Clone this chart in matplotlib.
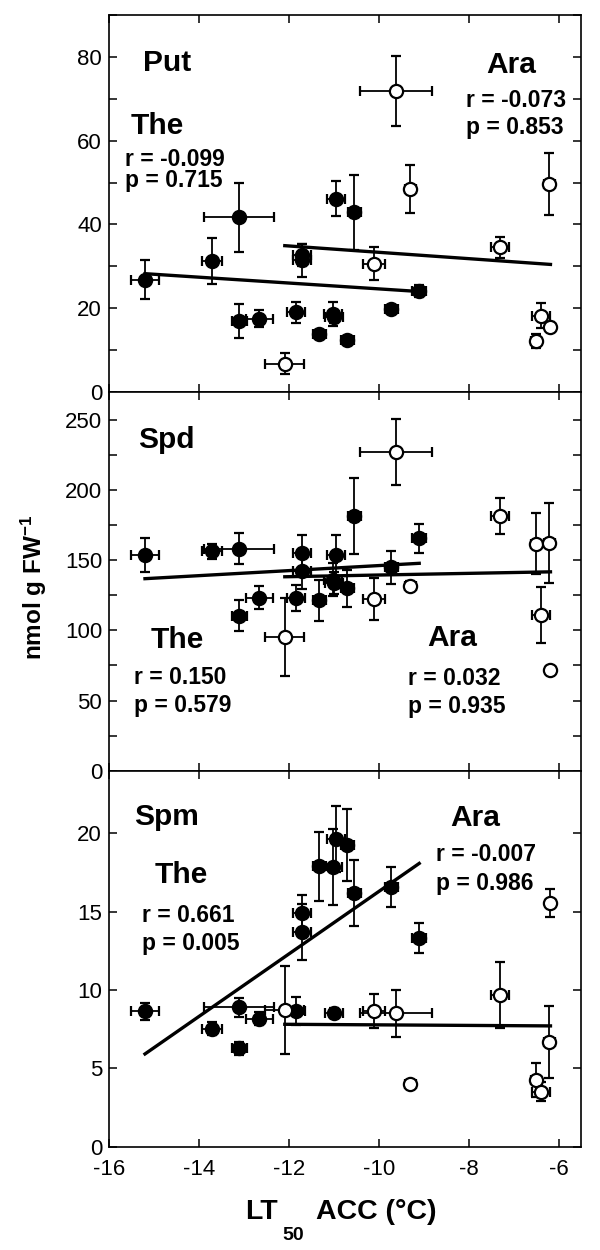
import numpy as np
import matplotlib
matplotlib.use("Agg")
import matplotlib.pyplot as plt
from matplotlib.ticker import MultipleLocator

plt.rcParams['font.family'] = ['Liberation Sans', 'DejaVu Sans']
plt.rcParams['mathtext.fontset'] = 'custom'
plt.rcParams['mathtext.rm'] = 'Liberation Sans:bold'
plt.rcParams['mathtext.bf'] = 'Liberation Sans:bold'
plt.rcParams['mathtext.it'] = 'Liberation Sans:bold'
plt.rcParams['axes.unicode_minus'] = False

# ---- LT50 ACC (x) ----
the_x = [-15.20, -13.71, -13.10, -13.10, -12.66, -11.84, -11.70, -11.71, -11.32,
         -11.02, -11.00, -10.96, -10.70, -10.54, -9.72, -9.10]
the_xerr = [0.32, 0.23, 0.78, 0.17, 0.30, 0.20, 0.20, 0.20, 0.15,
            0.20, 0.20, 0.20, 0.15, 0.15, 0.15, 0.15]
ara_x = [-12.09, -10.10, -9.61, -9.30, -7.31, -6.50, -6.40, -6.21, -6.18]
ara_xerr = [0.43, 0.25, 0.80, 0.12, 0.20, 0.12, 0.20, 0.12, 0.10]

# ---- Put ----
put_the = [26.8, 31.2, 41.7, 16.9, 17.5, 19.0, 32.7, 31.4, 13.9, 18.6, 18.0, 46.1, 12.4, 42.9, 19.8, 24.1]
put_the_err = [4.7, 5.5, 8.3, 4.1, 2.1, 2.6, 2.7, 4.0, 1.0, 2.9, 1.5, 4.2, 1.0, 9.0, 1.0, 1.5]
put_ara = [6.8, 30.6, 71.8, 48.5, 34.5, 12.2, 18.2, 49.6, 15.6]
put_ara_err = [2.6, 3.9, 8.4, 5.8, 2.5, 1.7, 3.0, 7.4, 1.0]

# ---- Spd ----
spd_the = [153.7, 156.3, 158.3, 110.6, 123.4, 123.2, 155.4, 142.2, 121.5, 136.3, 134.0, 153.5, 129.9, 181.6, 144.9, 165.6]
spd_the_err = [12.0, 5.5, 10.8, 11.2, 8.0, 9.3, 12.5, 13.0, 14.8, 12.0, 8.0, 14.5, 13.5, 27.0, 12.0, 10.6]
spd_ara = [95.3, 122.4, 227.1, 131.9, 181.4, 161.7, 111.0, 162.4, 71.9]
spd_ara_err = [28.0, 14.8, 23.5, 3.0, 13.0, 21.7, 19.8, 28.4, 3.0]

# ---- Spm ----
spm_the = [8.64, 7.53, 8.89, 6.27, 8.17, 8.64, 14.91, 13.72, 17.91, 17.85, 8.53, 19.62, 19.28, 16.17, 16.57, 13.31]
spm_the_err = [0.55, 0.40, 0.60, 0.40, 0.40, 0.90, 1.15, 1.80, 2.20, 2.40, 0.30, 2.10, 2.30, 2.10, 1.30, 0.95]
spm_ara = [8.73, 8.67, 8.52, 4.03, 9.70, 4.27, 3.52, 6.70, 15.57]
spm_ara_err = [2.80, 1.10, 1.50, 0.20, 2.10, 1.10, 0.60, 2.30, 0.90]

panel_names = ['Put', 'Spd', 'Spm']
the_stats = [('r = -0.099', 'p = 0.715'), ('r = 0.150', 'p = 0.579'), ('r = 0.661', 'p = 0.005')]
ara_stats = [('r = -0.073', 'p = 0.853'), ('r = 0.032', 'p = 0.935'), ('r = -0.007', 'p = 0.986')]
ylims = [90, 270, 24]
ymajor = [20, 50, 5]
yminor = [10, 25, 5]

the_series = [(put_the, put_the_err), (spd_the, spd_the_err), (spm_the, spm_the_err)]
ara_series = [(put_ara, put_ara_err), (spd_ara, spd_ara_err), (spm_ara, spm_ara_err)]

# text positions (axes fraction)
txt_pos = [
    dict(name=(0.071, 0.873), the=(0.045, 0.706), the_r=(0.034, 0.617), the_p=(0.034, 0.562),
         ara=(0.80, 0.867), ara_r=(0.757, 0.772), ara_p=(0.757, 0.701)),
    dict(name=(0.062, 0.873), the=(0.088, 0.345), the_r=(0.052, 0.247), the_p=(0.052, 0.173),
         ara=(0.675, 0.35), ara_r=(0.634, 0.244), ara_p=(0.634, 0.169)),
    dict(name=(0.054, 0.878), the=(0.097, 0.723), the_r=(0.069, 0.614), the_p=(0.069, 0.541),
         ara=(0.722, 0.873), ara_r=(0.693, 0.776), ara_p=(0.693, 0.700)),
]

fig = plt.figure(figsize=(6, 12.5), dpi=100)
left, width = 0.1817, 0.7867
boxes = [(0.6864, 0.3016), (0.38344, 0.3030), (0.08264, 0.3008)]

for i in range(3):
    ax = fig.add_axes([left, boxes[i][0], width, boxes[i][1]])
    ty, tye = the_series[i]
    ay, aye = ara_series[i]
    ekw = dict(fmt='o', ecolor='black', elinewidth=1.3, capsize=3.5, capthick=1.3,
               markersize=9.5, markeredgecolor='black', markeredgewidth=1.6)
    ax.errorbar(the_x, ty, xerr=the_xerr, yerr=tye, markerfacecolor='black', zorder=3, **ekw)
    ax.errorbar(ara_x, ay, xerr=ara_xerr, yerr=aye, markerfacecolor='white', zorder=3, **ekw)
    for xs, ys in ((the_x, ty), (ara_x, ay)):
        xs = np.asarray(xs); ys = np.asarray(ys)
        b, a = np.polyfit(xs, ys, 1)
        xx = np.array([xs.min(), xs.max()])
        ax.plot(xx, a + b * xx, color='black', lw=2.4, zorder=4)
    ax.set_xlim(-16, -5.5)
    ax.set_ylim(0, ylims[i])
    ax.xaxis.set_major_locator(MultipleLocator(2))
    ax.yaxis.set_major_locator(MultipleLocator(ymajor[i]))
    ax.yaxis.set_minor_locator(MultipleLocator(yminor[i]))
    ax.tick_params(which='both', direction='in', top=True, right=True, length=6, width=1.1,
                   labelsize=16)
    ax.tick_params(axis='y', pad=5)
    ax.tick_params(axis='x', pad=9)
    if i < 2:
        ax.tick_params(labelbottom=False)
    for s in ax.spines.values():
        s.set_linewidth(1.2)
    p = txt_pos[i]
    big = dict(transform=ax.transAxes, fontsize=21.5, fontweight='bold', va='center', ha='left')
    small = dict(transform=ax.transAxes, fontsize=16.5, fontweight='bold', va='center', ha='left')
    ax.text(*p['name'], panel_names[i], **big)
    ax.text(*p['the'], 'The', **big)
    ax.text(*p['the_r'], the_stats[i][0], **small)
    ax.text(*p['the_p'], the_stats[i][1], **small)
    ax.text(*p['ara'], 'Ara', **big)
    ax.text(*p['ara_r'], ara_stats[i][0], **small)
    ax.text(*p['ara_p'], ara_stats[i][1], **small)

# y label
fig.text(0.057, 0.530, r'nmol g FW$^{\mathbf{-1}}$', rotation=90, fontsize=17.5,
         fontweight='bold', ha='center', va='center')
# x label: LT + subscript 50 + ACC (°C)
fig.text(0.408, 0.0250, 'LT', fontsize=20.5, fontweight='bold', ha='left', va='baseline')
fig.text(0.470, 0.0080, '50', fontsize=14, fontweight='bold', ha='left', va='baseline')
fig.text(0.527, 0.0250, 'ACC (°C)', fontsize=20.5, fontweight='bold', ha='left', va='baseline')

fig.savefig('out.png', dpi=100)
